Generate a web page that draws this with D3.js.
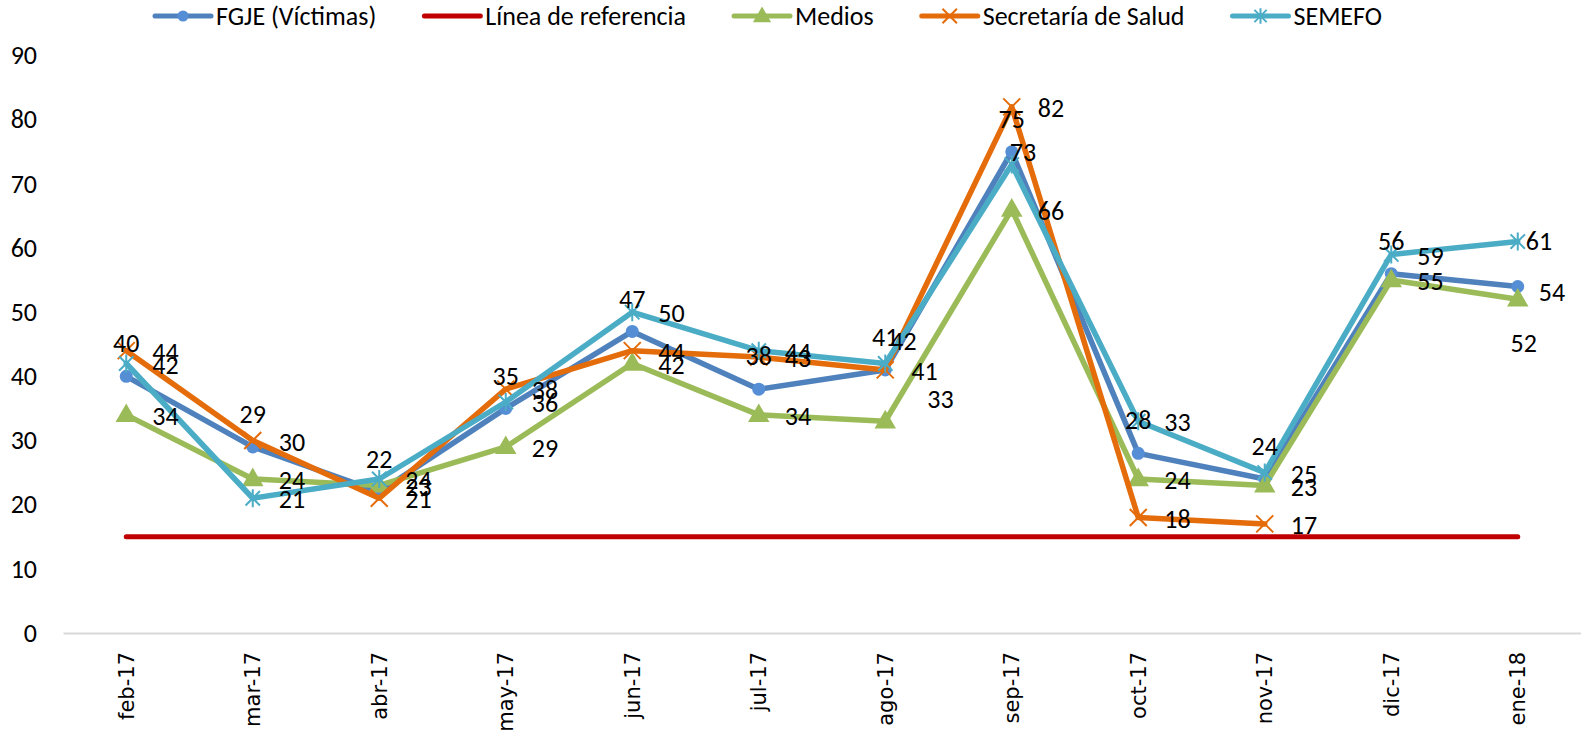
<!DOCTYPE html>
<html>
<head>
    <meta charset="utf-8">
    <title>Víctimas por mes</title>
    <style>
        body { margin: 0; background: #fff; }
        svg text { font-family: "Carlito", "Liberation Sans Narrow", "Liberation Sans", sans-serif; fill: #000; }
        .axis path, .axis line { fill: none; }
        .x.axis text { font-family: "DejaVu Sans", Verdana, sans-serif; font-size: 21px; }
        .y.axis text { font-size: 26px; }
        .lbl { font-size: 26px; }
        .legend text { font-size: 26px; }
    </style>
    <script src="https://d3js.org/d3.v7.min.js"></script>
</head>
<body>
<div id="graph"></div>
<script>
    var months = ["feb-17", "mar-17", "abr-17", "may-17", "jun-17", "jul-17",
                  "ago-17", "sep-17", "oct-17", "nov-17", "dic-17", "ene-18"];
    var fgje   = [40, 29, 22, 35, 47, 38, 41, 75, 28, 24, 56, 54];
    var medios = [34, 24, 23, 29, 42, 34, 33, 66, 24, 23, 55, 52];
    var salud  = [44, 30, 21, 38, 44, 43, 41, 82, 18, 17, null, null];
    var semefo = [42, 21, 24, 36, 50, 44, 42, 73, 33, 25, 59, 61];
    var referencia = 15;
    var yTicks = [0, 10, 20, 30, 40, 50, 60, 70, 80, 90];

    var width = 1581, height = 730;

    var svg = d3.select("#graph").append("svg")
        .attr("width", width)
        .attr("height", height);

    var x = d3.scaleBand().domain(months).range([63, 1581]);
    var y = d3.scaleLinear().domain([0, 90]).range([633, 55.5]);
    function cx(i) { return x(months[i]) + x.bandwidth() / 2; }

    // ejes
    var xAxis = svg.append("g")
        .attr("class", "x axis")
        .attr("transform", "translate(0," + y(0) + ")")
        .call(d3.axisBottom(x).tickSize(0).tickSizeOuter(0));
    xAxis.select(".domain").attr("stroke", "#D9D9D9").attr("stroke-width", 2);
    xAxis.selectAll("text")
        .attr("transform", "rotate(-90)")
        .attr("x", -19)
        .attr("y", 0)
        .attr("dy", "0.36em")
        .style("text-anchor", "end");

    var yAxis = svg.append("g")
        .attr("class", "y axis")
        .attr("transform", "translate(63,0)")
        .call(d3.axisLeft(y).tickValues(yTicks).tickSize(0).tickPadding(26));
    yAxis.select(".domain").remove();

    // marcadores
    function crossPath(s) {
        return "M" + (-s) + "," + (-s) + "L" + s + "," + s + "M" + (-s) + "," + s + "L" + s + "," + (-s);
    }
    function starPath(s) {
        return crossPath(s * 0.8) + "M0," + (-s) + "L0," + s;
    }

    var series = [
        { name: "FGJE (Víctimas)", values: fgje, color: "#4F81BD", fill: "#558ED5", marker: "circle" },
        { name: "Línea de referencia", ref: true, color: "#C00000" },
        { name: "Medios", values: medios, color: "#9BBB59", fill: "#9BBB59", marker: "triangle" },
        { name: "Secretaría de Salud", values: salud, color: "#E46C0A", fill: "#E46C0A", marker: "cross" },
        { name: "SEMEFO", values: semefo, color: "#4BACC6", fill: "#4BACC6", marker: "star" }
    ];

    function drawMarker(g, s, big) {
        var k = big ? 1 : 0.85;
        if (s.marker == "circle") {
            g.append("circle").attr("r", 6.5 * k).attr("fill", s.fill);
        } else if (s.marker == "triangle") {
            g.append("path").attr("d", d3.symbol().type(d3.symbolTriangle).size(200 * k * k)())
                .attr("transform", "translate(0,1)")
                .attr("fill", s.fill);
        } else if (s.marker == "cross") {
            g.append("path").attr("d", crossPath(8.5 * k))
                .attr("stroke", s.color).attr("stroke-width", 2).attr("fill", "none");
        } else if (s.marker == "star") {
            g.append("path").attr("d", starPath(9 * k))
                .attr("stroke", s.color).attr("stroke-width", 2).attr("fill", "none");
        }
    }

    var line = d3.line()
        .defined(function(d) { return d != null; })
        .x(function(d, i) { return cx(i); })
        .y(function(d) { return y(d); });

    series.forEach(function(s) {
        if (s.ref) {
            svg.append("line")
                .attr("x1", cx(0)).attr("x2", cx(months.length - 1))
                .attr("y1", y(referencia)).attr("y2", y(referencia))
                .attr("stroke", s.color).attr("stroke-width", 5)
                .attr("stroke-linecap", "round");
            return;
        }
        svg.append("path")
            .datum(s.values)
            .attr("fill", "none")
            .attr("stroke", s.color)
            .attr("stroke-width", 5.5)
            .attr("stroke-linejoin", "round")
            .attr("stroke-linecap", "round")
            .attr("d", line);
        s.values.forEach(function(v, i) {
            if (v == null) return;
            var g = svg.append("g").attr("transform", "translate(" + cx(i) + "," + y(v) + ")");
            drawMarker(g, s, true);
        });
    });

    // etiquetas de datos (posición por defecto + ajustes manuales)
    var labelPos = {
        "FGJE (Víctimas)": { dx: 0, dy: -33, anchor: "middle" },
        "Medios": { dx: 26, dy: 1, anchor: "start" },
        "Secretaría de Salud": { dx: 26, dy: 1, anchor: "start" },
        "SEMEFO": { dx: 26, dy: 1, anchor: "start" }
    };
    var labelFix = {
        "FGJE (Víctimas)|11": { dx: 21, dy: 5, anchor: "start" },
        "Medios|6": { dx: 42, dy: -22, anchor: "start" },
        "Medios|11": { dx: 6, dy: 44, anchor: "middle" },
        "SEMEFO|6": { dx: 5, dy: -23, anchor: "start" },
        "SEMEFO|7": { dx: -2, dy: -13, anchor: "start" },
        "SEMEFO|11": { dx: 8, dy: -1, anchor: "start" }
    };
    series.forEach(function(s) {
        if (s.ref) return;
        s.values.forEach(function(v, i) {
            if (v == null) return;
            var p = labelFix[s.name + "|" + i] || labelPos[s.name];
            svg.append("text")
                .attr("class", "lbl")
                .attr("x", cx(i) + p.dx)
                .attr("y", y(v) + p.dy)
                .attr("dy", "0.35em")
                .attr("text-anchor", p.anchor)
                .text(v);
        });
    });

    // leyenda
    var legend = svg.append("g").attr("class", "legend");
    var lx = 155, ly = 16;
    series.forEach(function(s) {
        var g = legend.append("g").attr("transform", "translate(" + lx + "," + ly + ")");
        g.append("line").attr("x1", 0).attr("x2", 56)
            .attr("stroke", s.color).attr("stroke-width", 5)
            .attr("stroke-linecap", "round");
        if (!s.ref) {
            var m = g.append("g").attr("transform", "translate(28,0)");
            drawMarker(m, s, false);
        }
        var t = g.append("text").attr("x", 61).attr("dy", "0.35em").text(s.name);
        lx += 61 + t.node().getComputedTextLength() + 48;
    });
</script>
</body>
</html>
